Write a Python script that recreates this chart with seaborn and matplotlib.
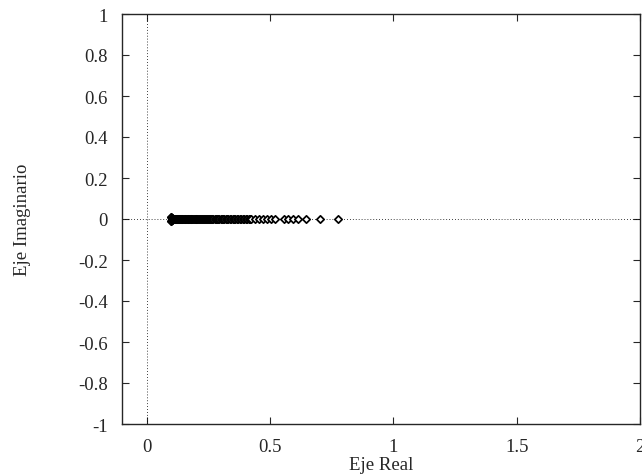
import matplotlib
matplotlib.use("Agg")
import matplotlib.pyplot as plt
import seaborn as sns
import pandas as pd

# Eigenvalues (real, imaginary)
real_part = [0.100, 0.100, 0.100, 0.100, 0.101, 0.101, 0.102, 0.102, 0.103, 0.104,
             0.105, 0.106, 0.107, 0.108, 0.109, 0.110, 0.112, 0.114, 0.116, 0.118,
             0.120, 0.122, 0.124, 0.126, 0.128, 0.130, 0.132, 0.134, 0.136, 0.138,
             0.140, 0.142, 0.145, 0.148, 0.151, 0.154, 0.157, 0.160, 0.163, 0.166,
             0.169, 0.172, 0.175, 0.178, 0.181, 0.184, 0.187, 0.190, 0.194, 0.198,
             0.202, 0.206, 0.210, 0.214, 0.218, 0.222, 0.226, 0.230, 0.234, 0.238,
             0.242, 0.246, 0.250, 0.254, 0.258, 0.262, 0.266, 0.270, 0.275, 0.280,
             0.285, 0.290, 0.295, 0.300, 0.305, 0.310, 0.315, 0.320, 0.325, 0.330,
             0.336, 0.342, 0.348, 0.354, 0.360, 0.366, 0.372, 0.378, 0.384, 0.390,
             0.396, 0.402, 0.408, 0.414, 0.420, 0.424, 0.438, 0.454, 0.470, 0.487,
             0.505, 0.521, 0.557, 0.574, 0.592, 0.612, 0.644, 0.701, 0.775]
imag_part = [0.012, -0.012, 0.008, -0.008, 0.005, -0.005, 0.003, -0.003, 0.0, 0.0,
             0.0, 0.0, 0.0, 0.0, 0.0, 0.0, 0.0, 0.0, 0.0, 0.0,
             0.0, 0.0, 0.0, 0.0, 0.0, 0.0, 0.0, 0.0, 0.0, 0.0,
             0.0, 0.0, 0.0, 0.0, 0.0, 0.0, 0.0, 0.0, 0.0, 0.0,
             0.0, 0.0, 0.0, 0.0, 0.0, 0.0, 0.0, 0.0, 0.0, 0.0,
             0.0, 0.0, 0.0, 0.0, 0.0, 0.0, 0.0, 0.0, 0.0, 0.0,
             0.0, 0.0, 0.0, 0.0, 0.0, 0.0, 0.0, 0.0, 0.0, 0.0,
             0.0, 0.0, 0.0, 0.0, 0.0, 0.0, 0.0, 0.0, 0.0, 0.0,
             0.0, 0.0, 0.0, 0.0, 0.0, 0.0, 0.0, 0.0, 0.0, 0.0,
             0.0, 0.0, 0.0, 0.0, 0.0, 0.0, 0.0, 0.0, 0.0, 0.0,
             0.0, 0.0, 0.0, 0.0, 0.0, 0.0, 0.0, 0.0, 0.0]

x_ticks = [0, 0.5, 1, 1.5, 2]
x_labels = ["0", "0.5", "1", "1.5", "2"]
y_ticks = [-1, -0.8, -0.6, -0.4, -0.2, 0, 0.2, 0.4, 0.6, 0.8, 1]
y_labels = ["-1", "-0.8", "-0.6", "-0.4", "-0.2", "0", "0.2", "0.4", "0.6", "0.8", "1"]

sns.set_style("ticks")
plt.rcParams["font.family"] = ["Liberation Serif", "DejaVu Serif"]
FS = 13.5

df = pd.DataFrame({"re": real_part, "im": imag_part})

fig = plt.figure(figsize=(6.42, 4.77), dpi=100)
ax = fig.add_axes([122 / 642, 52 / 477, (640 - 122) / 642, 410 / 477])

ax.axhline(0, color="black", lw=0.6, ls=(0, (1, 2.5)), zorder=1)
ax.axvline(0, color="black", lw=0.6, ls=(0, (1, 2.5)), zorder=1)

sns.scatterplot(data=df, x="re", y="im", ax=ax, marker="D", s=14,
                facecolor="white", edgecolor="black", linewidth=1.25, zorder=3)

ax.set_xlim(-0.1, 2)
ax.set_ylim(-1, 1)
ax.set_xticks(x_ticks)
ax.set_xticklabels(x_labels)
ax.set_yticks(y_ticks)
ax.set_yticklabels(y_labels)
ax.tick_params(direction="in", top=True, right=True, length=5, width=0.8,
               labelsize=FS)
ax.tick_params(axis="x", pad=10)
ax.tick_params(axis="y", pad=10)
for s in ax.spines.values():
    s.set_linewidth(1.0)
ax.set_xlabel("Eje Real", fontsize=FS, labelpad=1)
ax.set_ylabel("Eje Imaginario", fontsize=FS, labelpad=34)

fig.savefig("out.png", dpi=100)
